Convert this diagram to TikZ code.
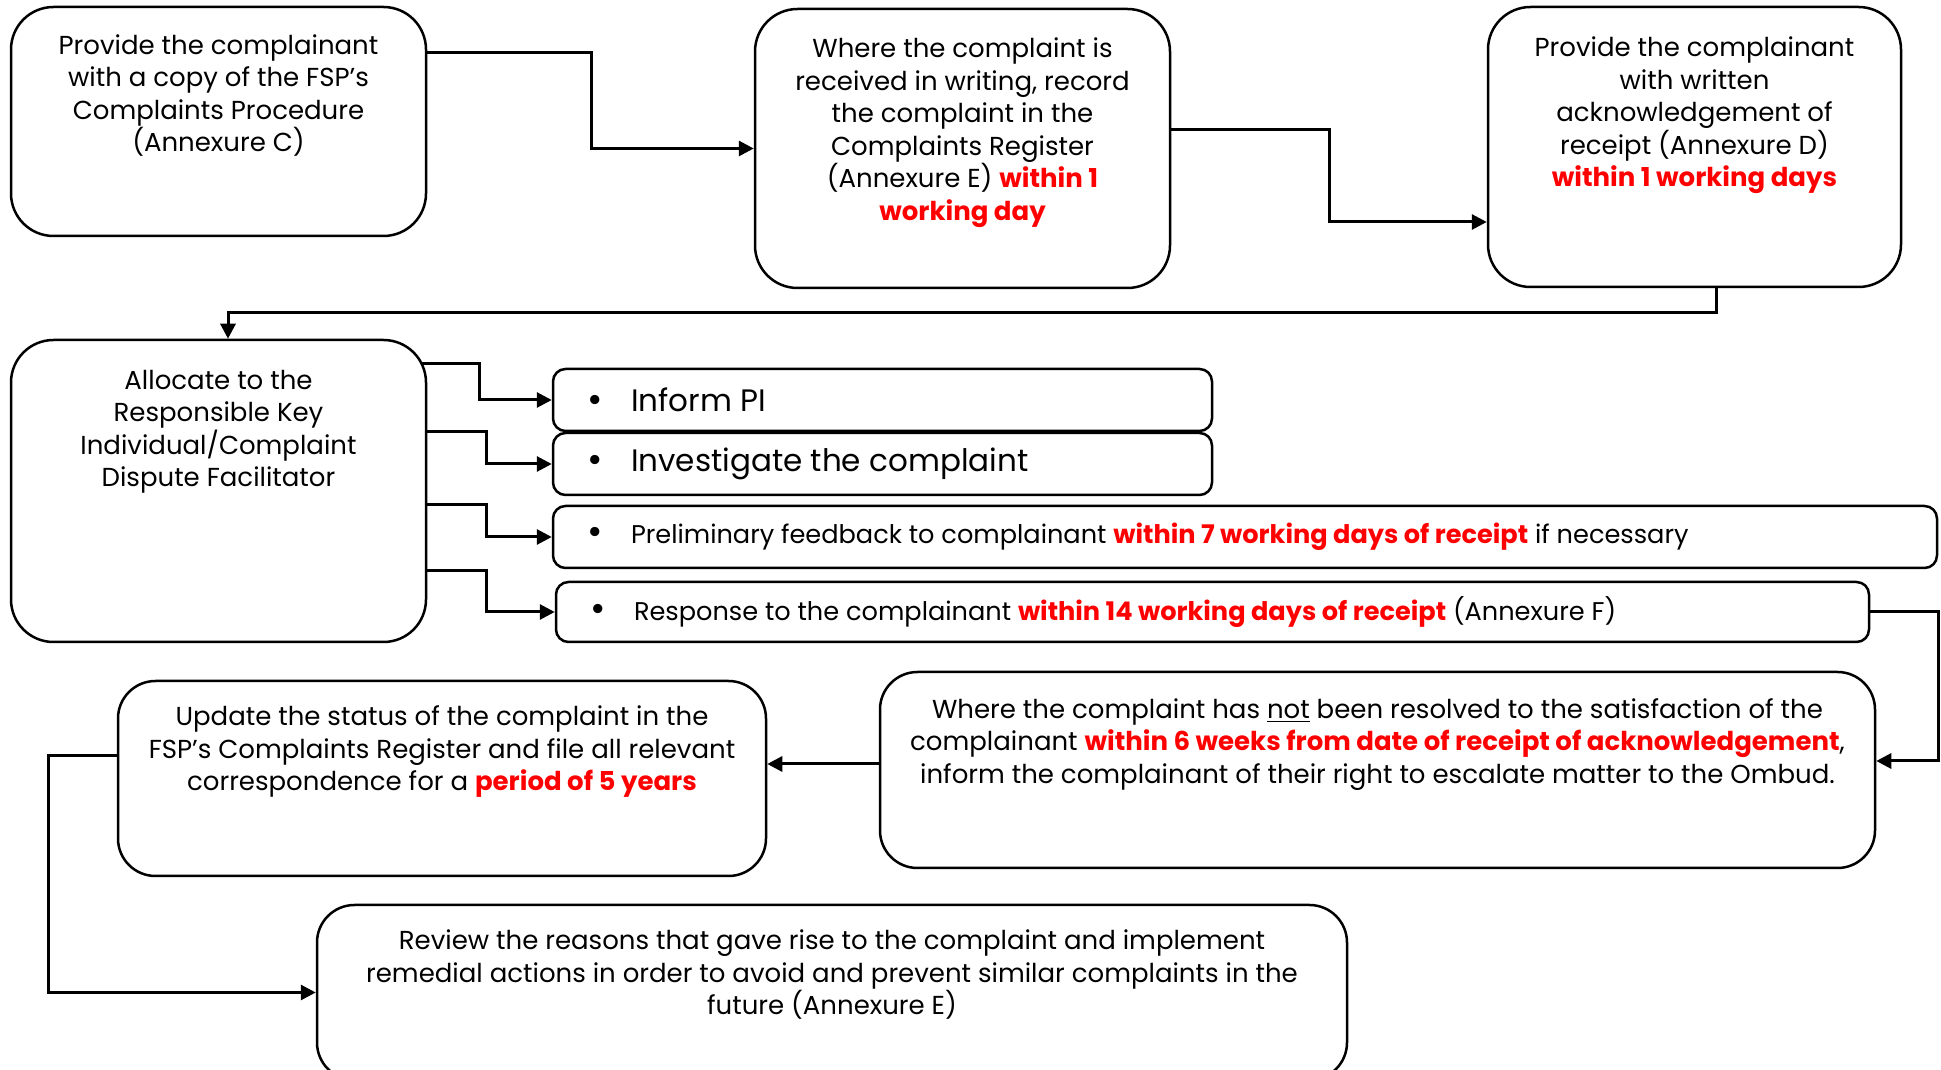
\documentclass[tikz,border=0pt]{standalone}
\usepackage{fontspec}
\setmainfont{Poppins}
\usetikzlibrary{arrows.meta,fit,calc}
\newcommand{\deadline}[1]{\textcolor{red}{\textbf{#1}}}
\newcommand{\itemdot}{\makebox[17.5pt][l]{\raisebox{-0.5pt}{\fontsize{15}{15}\selectfont\textbullet}}}
\tikzset{
  stepbox/.style={draw, line width=1pt, rounded corners=17pt, inner sep=0pt},
  itembox/.style={draw, line width=1pt, rounded corners=5pt, inner sep=0pt},
  boxtext/.style={anchor=north, inner sep=0pt, align=center, font=\fontsize{10.4}{13}\selectfont},
  itemtext/.style={anchor=west, inner sep=0pt, font=\fontsize{10.25}{12}\selectfont},
  bigitem/.style={itemtext, font=\fontsize{12.4}{14}\selectfont},
  conn/.style={line width=1.2pt, -{Triangle[length=6pt,width=6pt]}},
}
\begin{document}
\begin{tikzpicture}[x=0.4pt,y=-0.4pt]
    \useasboundingbox (0,0) rectangle (1941,1070);
    \clip (0,0) rectangle (1941,1070);
    % top row
    \node[stepbox, fit={(11,7) (426,236)}] (copybox) {};
    \node[stepbox, fit={(755,9) (1170,288)}] (registerbox) {};
    \node[stepbox, fit={(1488,7) (1901,287)}] (ackbox) {};
    \node[boxtext] (copytext) at ([yshift=-11.3pt]copybox.north) {Provide the complainant\\with a copy of the FSP’s\\Complaints Procedure\\(Annexure C)};
    \node[boxtext] (registertext) at ([yshift=-11.8pt]registerbox.north) {Where the complaint is\\received in writing, record\\the complaint in the\\Complaints Register\\(Annexure E) \deadline{within 1}\\\deadline{working day}};
    \node[boxtext] (acktext) at ([yshift=-12.3pt]ackbox.north) {Provide the complainant\\with written\\acknowledgement of\\receipt (Annexure D)\\\deadline{within 1 working days}};
    % allocation and the four tasks
    \node[stepbox, fit={(11,340) (426,642)}] (allocbox) {};
    \node[boxtext] (alloctext) at ([yshift=-12.3pt]allocbox.north) {Allocate to the\\Responsible Key\\Individual/Complaint\\Dispute Facilitator};
    \node[itembox, fit={(553,369) (1212,431)}] (informbox) {};
    \node[itembox, fit={(553,433) (1212,495)}] (investbox) {};
    \node[itembox, fit={(553,506) (1937,568)}] (feedbackbox) {};
    \node[itembox, fit={(556,582) (1869,642)}] (responsebox) {};
    \node[bigitem] (informtext) at ([xshift=14pt]informbox.west) {\itemdot Inform PI};
    \node[bigitem] (investtext) at ([xshift=14pt]investbox.west) {\itemdot Investigate the complaint};
    \node[itemtext] (feedbacktext) at ([xshift=14pt]feedbackbox.west) {\itemdot Preliminary feedback to complainant \deadline{within 7 working days of receipt} if necessary};
    \node[itemtext] (responsetext) at ([xshift=14pt]responsebox.west) {\itemdot Response to the complainant \deadline{within 14 working days of receipt} (Annexure F)};
    % escalation, records and review
    \node[stepbox, rounded corners=15pt, fit={(880,672) (1875,868)}] (escalatebox) {};
    \node[boxtext] (escalatetext) at ([yshift=-10.8pt]escalatebox.north) {Where the complaint has \underline{not} been resolved to the satisfaction of the\\complainant \deadline{within 6 weeks from date of receipt of acknowledgement},\\inform the complainant of their right to escalate matter to the Ombud.};
    \node[stepbox, rounded corners=15pt, fit={(118,681) (766,876)}] (updatebox) {};
    \node[boxtext] (updatetext) at ([yshift=-10.3pt]updatebox.north) {Update the status of the complaint in the\\FSP’s Complaints Register and file all relevant\\correspondence for a \deadline{period of 5 years}};
    \node[stepbox, rounded corners=15pt, fit={(317,905) (1347,1080)}] (reviewbox) {};
    \node[boxtext] (reviewtext) at ([yshift=-10.3pt]reviewbox.north) {Review the reasons that gave rise to the complaint and implement\\remedial actions in order to avoid and prevent similar complaints in the\\future (Annexure E)};
    % connectors
    \draw[conn] ([yshift=27.4pt]copybox.east) -- ++(164,0) |- (registerbox.west);
    \draw[conn] ([yshift=7.4pt]registerbox.east) -- ++(158,0) |- ([yshift=-30pt]ackbox.west);
    \draw[conn] ([xshift=8.6pt]ackbox.south) -- ++(0,24) -| ([xshift=3.8pt]allocbox.north);
    \draw[conn] ([xshift=-2pt,yshift=50.8pt]allocbox.east) -- ++(57,0) |- (informbox.west);
    \draw[conn] ([yshift=23.6pt]allocbox.east) -- ++(59,0) |- (investbox.west);
    \draw[conn] ([yshift=-5.6pt]allocbox.east) -- ++(59,0) |- (feedbackbox.west);
    \draw[conn] ([yshift=-32pt]allocbox.east) -- ++(59,0) |- (responsebox.west);
    \draw[conn] (responsebox.east) -- ++(68,0) |- ([yshift=3.6pt]escalatebox.east);
    \draw[conn] ([yshift=2.4pt]escalatebox.west) -- ([yshift=2.4pt]escalatebox.west -| updatebox.east);
    \draw[conn] ([yshift=9pt]updatebox.west) -- ++(-68,0) |- (reviewbox.west);
\end{tikzpicture}
\end{document}
